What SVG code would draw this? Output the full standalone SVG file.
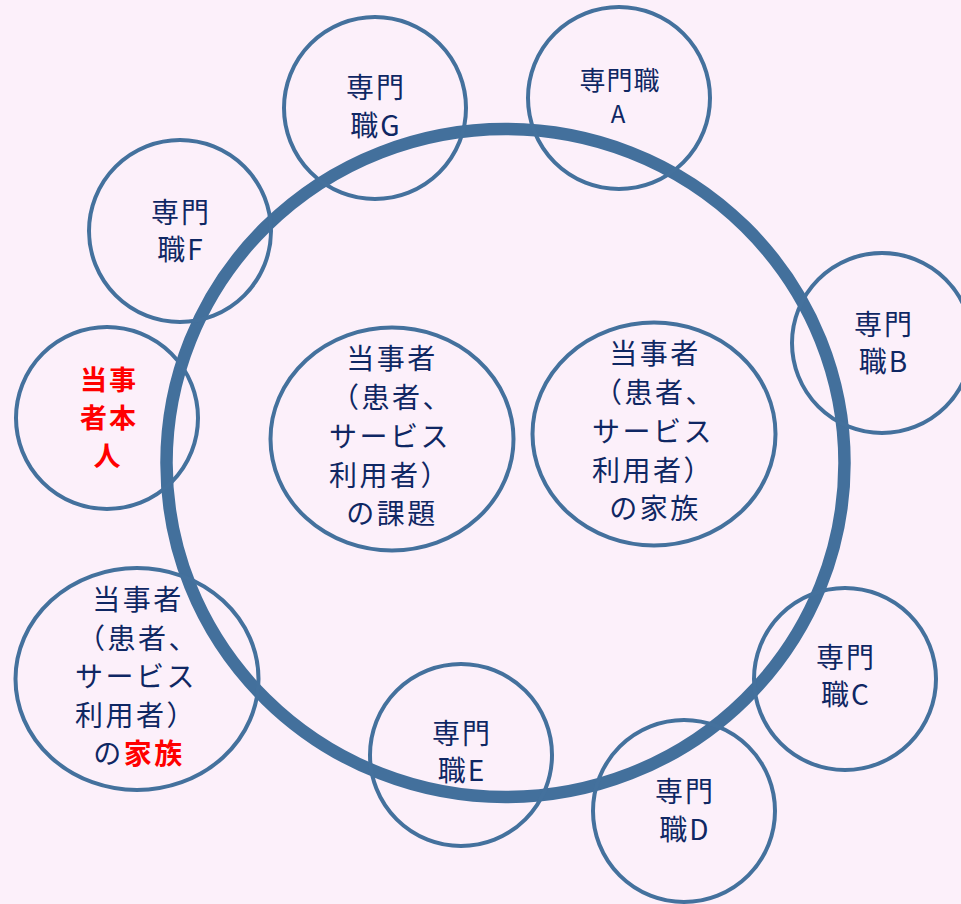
<svg xmlns="http://www.w3.org/2000/svg" width="961" height="904" viewBox="0 0 961 904">
<style>
.bg{fill:#fcf0fa}
.ring{fill:none;stroke:#43709c;stroke-width:12.5}
.c{fill:none;stroke:#44719d;stroke-width:4}
.t{font-family:"Noto Sans CJK JP","Noto Sans",sans-serif;fill:#0f2763;text-anchor:middle;font-size:28px;letter-spacing:2px}
.e{font-size:28px;letter-spacing:2.5px}
.r{fill:#ff0000;font-weight:bold}
</style>
<rect class="bg" x="0" y="0" width="961" height="904"/>
<g id="ring"><ellipse class="ring" cx="505.5" cy="463" rx="339" ry="334"/></g>
<g id="senmon-G"><circle class="c" cx="375" cy="108" r="91"/><text class="t" x="376" y="98">専門</text><text class="t" x="376" y="136">職G</text></g>
<g id="senmon-A"><circle class="c" cx="619" cy="98" r="91"/><text class="t" x="620" y="90" style="font-size:26px;letter-spacing:1px">専門職</text><text class="t" x="619" y="123" style="font-size:24px">A</text></g>
<g id="senmon-B"><circle class="c" cx="882" cy="343" r="90"/><text class="t" x="884" y="335">専門</text><text class="t" x="884" y="372">職B</text></g>
<g id="senmon-F"><circle class="c" cx="180" cy="231" r="91"/><text class="t" x="181" y="223">専門</text><text class="t" x="181" y="260">職F</text></g>
<g id="toujisha-honnin"><circle class="c" cx="107" cy="418" r="91"/><text class="t r" x="109" y="390" style="font-size:27px">当事</text><text class="t r" x="109" y="428" style="font-size:27px">者本</text><text class="t r" x="108" y="466" style="font-size:27px">人</text></g>
<g id="kadai"><ellipse class="c" cx="392" cy="439" rx="121.5" ry="111.5"/>
<text class="t e" x="392" y="369">当事者</text><text class="t e" x="392" y="408">（患者、</text><text class="t e" x="390" y="447">サービス</text><text class="t e" x="390" y="486">利用者）</text><text class="t e" x="392" y="524">の課題</text></g>
<g id="kazoku"><ellipse class="c" cx="654" cy="434" rx="121.5" ry="111.5"/>
<text class="t e" x="655" y="364">当事者</text><text class="t e" x="655" y="403">（患者、</text><text class="t e" x="653" y="442">サービス</text><text class="t e" x="653" y="481">利用者）</text><text class="t e" x="655" y="519">の家族</text></g>
<g id="kazoku-left"><ellipse class="c" cx="137" cy="679" rx="121.5" ry="111"/>
<text class="t e" x="138" y="610">当事者</text><text class="t e" x="138" y="649">（患者、</text><text class="t e" x="136" y="687">サービス</text><text class="t e" x="136" y="726">利用者）</text><text class="t e" x="139" y="764">の<tspan class="r">家族</tspan></text></g>
<g id="senmon-C"><circle class="c" cx="845" cy="679" r="91"/><text class="t" x="846" y="668">専門</text><text class="t" x="846" y="705">職C</text></g>
<g id="senmon-E"><circle class="c" cx="461" cy="755" r="91"/><text class="t" x="462" y="744">専門</text><text class="t" x="462" y="781">職E</text></g>
<g id="senmon-D"><circle class="c" cx="684" cy="811" r="91"/><text class="t" x="685" y="802">専門</text><text class="t" x="685" y="840">職D</text></g>
</svg>
